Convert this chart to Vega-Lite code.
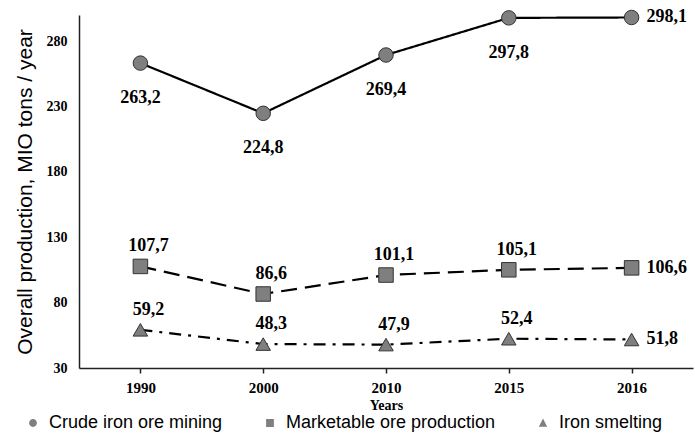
{
  "$schema": "https://vega.github.io/schema/vega-lite/v6.json",
  "autosize": {"type": "none"},
  "width": 614,
  "height": 353,
  "padding": {"left": 79, "top": 15, "right": 2, "bottom": 65},
  "background": "white",
  "config": {"view": {"stroke": null}},
  "data": {
    "values": [
      {"series": "Crude iron ore mining", "year": "1990", "value": 263.2, "label": "263,2"},
      {"series": "Crude iron ore mining", "year": "2000", "value": 224.8, "label": "224,8"},
      {"series": "Crude iron ore mining", "year": "2010", "value": 269.4, "label": "269,4"},
      {"series": "Crude iron ore mining", "year": "2015", "value": 297.8, "label": "297,8"},
      {"series": "Crude iron ore mining", "year": "2016", "value": 298.1, "label": "298,1"},
      {"series": "Marketable ore production", "year": "1990", "value": 107.7, "label": "107,7"},
      {"series": "Marketable ore production", "year": "2000", "value": 86.6, "label": "86,6"},
      {"series": "Marketable ore production", "year": "2010", "value": 101.1, "label": "101,1"},
      {"series": "Marketable ore production", "year": "2015", "value": 105.1, "label": "105,1"},
      {"series": "Marketable ore production", "year": "2016", "value": 106.6, "label": "106,6"},
      {"series": "Iron smelting", "year": "1990", "value": 59.2, "label": "59,2"},
      {"series": "Iron smelting", "year": "2000", "value": 48.3, "label": "48,3"},
      {"series": "Iron smelting", "year": "2010", "value": 47.9, "label": "47,9"},
      {"series": "Iron smelting", "year": "2015", "value": 52.4, "label": "52,4"},
      {"series": "Iron smelting", "year": "2016", "value": 51.8, "label": "51,8"}
    ]
  },
  "encoding": {
    "x": {
      "field": "year", "type": "ordinal",
      "scale": {"type": "point", "padding": 0.5},
      "axis": {
        "title": "Years", "labelAngle": 0,
        "labelFont": "Liberation Serif", "labelFontWeight": "bold", "labelFontSize": 15, "labelColor": "black",
        "titleFont": "Liberation Serif", "titleFontWeight": "bold", "titleFontSize": 14, "titleColor": "black",
        "titlePadding": 3, "labelPadding": 7,
        "domainColor": "#222", "domainWidth": 1.5, "tickColor": "#222", "tickWidth": 1.5, "tickSize": 5
      }
    },
    "y": {
      "field": "value", "type": "quantitative",
      "scale": {"domain": [30, 300], "nice": false, "zero": false},
      "axis": {
        "title": "Overall production, MIO tons / year", "values": [30, 80, 130, 180, 230, 280],
        "grid": false, "ticks": false, "labelPadding": 12,
        "labelFont": "Liberation Serif", "labelFontWeight": "bold", "labelFontSize": 14, "labelColor": "black",
        "titleFont": "Liberation Sans", "titleFontWeight": "normal", "titleFontSize": 21, "titleColor": "black",
        "titlePadding": 11,
        "domainColor": "#222", "domainWidth": 1.5
      }
    }
  },
  "resolve": {"scale": {"shape": "independent"}, "legend": {"shape": "independent"}},
  "layer": [
    {
      "mark": {"type": "line", "color": "black", "strokeWidth": 2.2},
      "encoding": {
        "detail": {"field": "series"},
        "strokeDash": {
          "field": "series", "type": "nominal",
          "scale": {"domain": ["Iron smelting", "Marketable ore production", "Crude iron ore mining"], "range": [[12, 7, 3, 7], [16, 8], [1, 0]]},
          "legend": null
        }
      }
    },
    {
      "mark": {"type": "point", "filled": true, "fill": "#7f7f7f", "stroke": "#333", "strokeWidth": 1, "opacity": 1, "size": 210},
      "encoding": {
        "shape": {
          "field": "series", "type": "nominal",
          "scale": {"domain": ["Iron smelting", "Crude iron ore mining", "Marketable ore production"], "range": ["triangle-up", "circle", "square"]},
          "legend": null
        }
      }
    },
    {
      "mark": {"type": "point", "filled": true, "fill": "#7f7f7f", "stroke": "#333", "strokeWidth": 1.8, "opacity": 0, "size": 10},
      "encoding": {
        "shape": {
          "field": "series", "type": "nominal",
          "scale": {
            "domain": ["Crude iron ore mining", "Marketable ore production", "Iron smelting"],
            "range": [
              "M-1,0H-0.3M0.3,0H1M-0.3,0A0.3,0.3 0 1,0 0.3,0A0.3,0.3 0 1,0 -0.3,0Z",
              "M-1,0H-0.3M0.3,0H1M-0.3,-0.3H0.3V0.3H-0.3Z",
              "M-1,0H-0.3M0.3,0H0.45M0.75,0H0.85M0,-0.34L0.32,0.28H-0.32Z"
            ]
          },
          "legend": {
            "title": null, "orient": "none", "direction": "horizontal",
            "legendX": -60, "legendY": 394,
            "labelFont": "Liberation Sans", "labelFontSize": 18, "labelColor": "black",
            "symbolSize": 676, "symbolOpacity": 1, "symbolFillColor": "#7f7f7f", "symbolStrokeColor": "#333", "symbolStrokeWidth": 1.8,
            "labelOffset": 2, "columnPadding": 30, "labelLimit": 300,
            "encode": {
              "symbols": {
                "update": {
                  "stroke": {"value": "#333"},
                  "strokeWidth": {"value": 1.8},
                  "strokeOpacity": {"value": 1},
                  "fill": {"value": "#7f7f7f"},
                  "fillOpacity": {"value": 1},
                  "opacity": {"value": 1}
                }
              }
            }
          }
        }
      }
    },
    {
      "transform": [{"filter": "datum.series === 'Crude iron ore mining' && datum.year !== '2016'"}],
      "mark": {"type": "text", "font": "Liberation Serif", "fontWeight": "bold", "fontSize": 18, "color": "black", "dy": 35, "align": "center", "baseline": "middle"},
      "encoding": {"text": {"field": "label"}}
    },
    {
      "transform": [{"filter": "datum.year === '2016'"}],
      "mark": {"type": "text", "font": "Liberation Serif", "fontWeight": "bold", "fontSize": 18, "color": "black", "dx": 15, "align": "left", "baseline": "middle"},
      "encoding": {"text": {"field": "label"}}
    },
    {
      "transform": [{"filter": "datum.series !== 'Crude iron ore mining' && datum.year !== '2016'"}],
      "mark": {"type": "text", "font": "Liberation Serif", "fontWeight": "bold", "fontSize": 18, "color": "black", "dx": 8, "dy": -20, "align": "center", "baseline": "middle"},
      "encoding": {"text": {"field": "label"}}
    }
  ]
}
